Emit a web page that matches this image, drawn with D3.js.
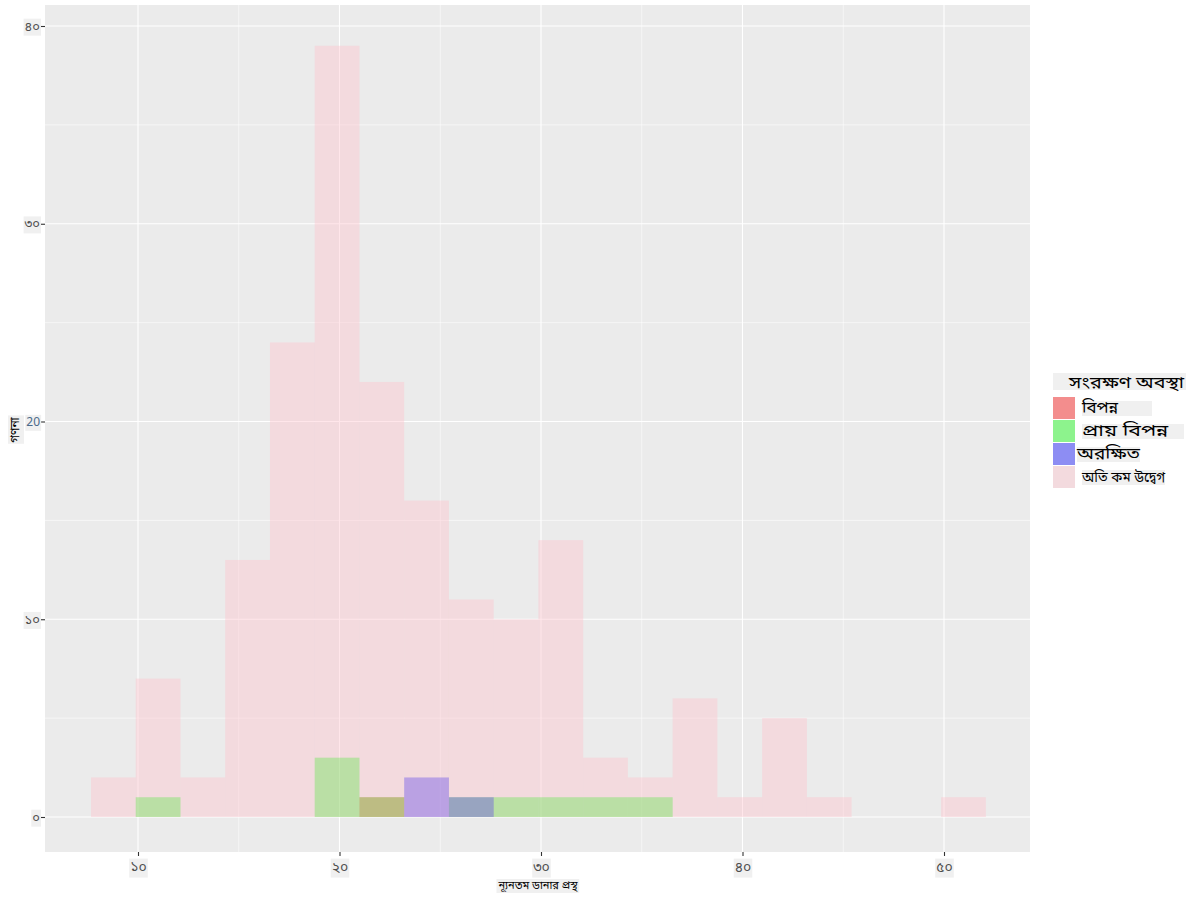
<!DOCTYPE html>
<html>
<head>
<meta charset="utf-8">
<script src="https://cdn.jsdelivr.net/npm/d3@7"></script>
<style>
  body { margin: 0; background: #ffffff; }
  text { font-family: "Noto Sans Bengali", "Noto Sans", "DejaVu Sans", sans-serif; }
</style>
</head>
<body>
<svg id="chart" width="1200" height="900"></svg>
<script>
// ---- data ----
const binStart = 7.667;
const binWidth = 2.2205;
const categories = ["বিপন্ন", "প্রায় বিপন্ন", "অরক্ষিত", "অতি কম উদ্বেগ"];
const colors = ["#FF0000", "#00FF00", "#0000FF", "#FFC0CB"];
const countsEndangered   = [0,0,0,0,0,0,1,0,0,0,0,0,0,0,0,0,0,0,0,0];
const countsNearThreat   = [0,1,0,0,0,3,1,0,1,1,1,1,1,0,0,0,0,0,0,0];
const countsVulnerable   = [0,0,0,0,0,0,0,2,1,0,0,0,0,0,0,0,0,0,0,0];
const countsLeastConcern = [2,7,2,13,24,39,22,16,11,10,14,3,2,6,1,5,1,0,0,1];
const seriesCounts = [countsEndangered, countsNearThreat, countsVulnerable, countsLeastConcern];
const xTickValues = [10, 20, 30, 40, 50];
const xTickLabels = ["১০", "২০", "৩০", "৪০", "৫০"];
const yTickValues = [0, 10, 20, 30, 40];
const yTickLabels = ["০", "১০", "20", "৩০", "৪০"];
const xMinor = [15, 25, 35, 45];
const yMinor = [5, 15, 25, 35];
const xTitle = "ন্যূনতম ডানার প্রস্থ";
const yTitle = "গণনা";
const legendTitle = "সংরক্ষণ অবস্থা";

// ---- layout ----
const svg = d3.select("#chart");
const panel = {left: 45, right: 1030, top: 5, bottom: 852};
const x = d3.scaleLinear().domain([10, 50]).range([138, 944]);
const y = d3.scaleLinear().domain([0, 40]).range([817, 26]);

svg.append("rect").attr("x", panel.left).attr("y", panel.top)
  .attr("width", panel.right - panel.left).attr("height", panel.bottom - panel.top)
  .attr("fill", "#ebebeb");

const grid = svg.append("g");
xMinor.forEach(v => grid.append("line").attr("x1", x(v)).attr("x2", x(v))
  .attr("y1", panel.top).attr("y2", panel.bottom).attr("stroke", "#fff").attr("stroke-width", 0.55));
yMinor.forEach(v => grid.append("line").attr("y1", y(v)).attr("y2", y(v))
  .attr("x1", panel.left).attr("x2", panel.right).attr("stroke", "#fff").attr("stroke-width", 0.55));
xTickValues.forEach(v => grid.append("line").attr("x1", x(v)).attr("x2", x(v))
  .attr("y1", panel.top).attr("y2", panel.bottom).attr("stroke", "#fff").attr("stroke-width", 1.1));
yTickValues.forEach(v => grid.append("line").attr("y1", y(v)).attr("y2", y(v))
  .attr("x1", panel.left).attr("x2", panel.right).attr("stroke", "#fff").attr("stroke-width", 1.1));

// bars (identity position, alpha 0.4)
const barsG = svg.append("g");
seriesCounts.forEach((counts, si) => {
  const data = counts.map((c, i) => ({c, x0: binStart + i * binWidth, x1: binStart + (i + 1) * binWidth}))
    .filter(d => d.c > 0);
  barsG.selectAll(null).data(data).enter().append("rect")
    .attr("x", d => x(d.x0))
    .attr("width", d => x(d.x1) - x(d.x0))
    .attr("y", d => y(d.c))
    .attr("height", d => y(0) - y(d.c))
    .attr("fill", colors[si])
    .attr("fill-opacity", 0.4);
});

function labelBg(sel, extra) {
  sel.each(function() {
    const bb = this.getBBox();
    d3.select(this.parentNode).insert("rect", () => this)
      .attr("x", bb.x - 1).attr("y", bb.y).attr("width", bb.width + 2 + (extra || 0)).attr("height", bb.height)
      .attr("fill", "#f0f0f0");
  });
}

// axes
const xAxis = svg.append("g").attr("transform", `translate(0,${panel.bottom})`)
  .call(d3.axisBottom(x).tickValues(xTickValues).tickSize(4)
    .tickFormat((d, i) => xTickLabels[i]));
xAxis.select(".domain").remove();
xAxis.selectAll(".tick line").attr("stroke", "#333").attr("stroke-width", 1.1);
xAxis.selectAll(".tick text").attr("fill", "#4d4d4d").attr("font-size", 14).attr("dy", "0.9em");
labelBg(xAxis.selectAll(".tick text"));

const yAxis = svg.append("g").attr("transform", `translate(${panel.left},0)`)
  .call(d3.axisLeft(y).tickValues(yTickValues).tickSize(4)
    .tickFormat((d, i) => yTickLabels[i]));
yAxis.select(".domain").remove();
yAxis.selectAll(".tick line").attr("stroke", "#333").attr("stroke-width", 1.1);
yAxis.selectAll(".tick text").attr("fill", "#4d4d4d").attr("font-size", 13).attr("x", -5);
yAxis.selectAll(".tick text").filter((d) => d === 20).attr("fill", "#4a6a8a").attr("font-size", 12);
labelBg(yAxis.selectAll(".tick text"));

// axis titles
const xt = svg.append("g");
xt.append("text").attr("x", 538).attr("y", 889).attr("text-anchor", "middle")
  .attr("font-size", 11).attr("fill", "#000").text(xTitle);
labelBg(xt.selectAll("text"));
const yt = svg.append("g");
yt.append("text").attr("transform", "translate(19,430) rotate(-90)").attr("text-anchor", "middle")
  .attr("font-size", 12).attr("fill", "#000").text(yTitle);
yt.selectAll("text").each(function() {
  const bb = this.getBBox();
  d3.select(this.parentNode).insert("rect", () => this)
    .attr("transform", "translate(19,430) rotate(-90)")
    .attr("x", bb.x - 1).attr("y", bb.y).attr("width", bb.width + 2).attr("height", bb.height)
    .attr("fill", "#f0f0f0");
});

// legend
const lg = svg.append("g");
const lt = lg.append("text").attr("x", 1069).attr("y", 388).attr("font-size", 16)
  .attr("font-weight", 400).attr("fill", "#000")
  .attr("textLength", 115).attr("lengthAdjust", "spacingAndGlyphs").text(legendTitle);
lg.insert("rect", () => lt.node()).attr("x", 1053).attr("y", 373).attr("width", 133).attr("height", 17).attr("fill", "#f0f0f0");
const keyY = [397, 420, 443, 466];
const labelX = [1082, 1082, 1077, 1082];
const labelW = [36, 86, 63, 83];
const bgW = [70, 102, 38, 78];
categories.forEach((cat, i) => {
  lg.append("rect").attr("x", 1053).attr("y", keyY[i]).attr("width", 22).attr("height", 22)
    .attr("fill", "#ebebeb");
  lg.append("rect").attr("x", 1053).attr("y", keyY[i]).attr("width", 22).attr("height", 22)
    .attr("fill", colors[i]).attr("fill-opacity", 0.4);
  const t = lg.append("text").attr("x", labelX[i]).attr("y", keyY[i] + 16)
    .attr("font-size", i === 3 ? 14 : 16).attr("fill", "#000")
    .attr("textLength", labelW[i]).attr("lengthAdjust", "spacingAndGlyphs").text(cat);
  lg.insert("rect", () => t.node()).attr("x", labelX[i]).attr("y", keyY[i] + 4)
    .attr("width", Math.max(labelW[i], bgW[i])).attr("height", 15).attr("fill", "#f0f0f0");
});
</script>
</body>
</html>
